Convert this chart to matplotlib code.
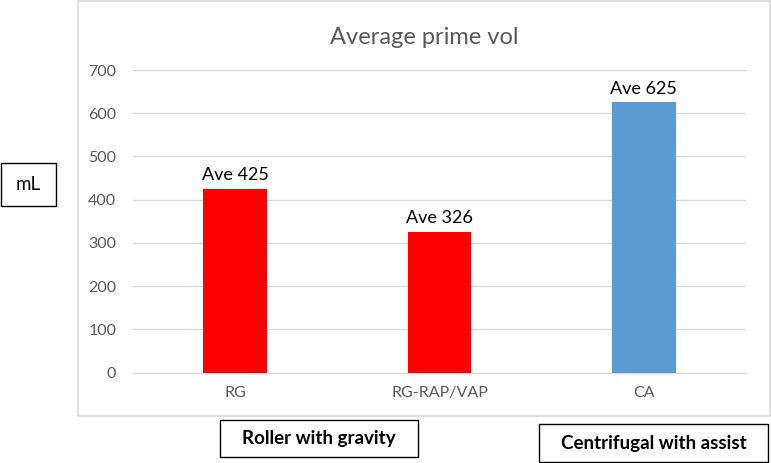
import matplotlib
matplotlib.use("Agg")
import matplotlib.pyplot as plt
from matplotlib.patches import Rectangle

categories = ["RG", "RG-RAP/VAP", "CA"]
values = [425, 326, 625]
labels = ["Ave 425", "Ave 326", "Ave 625"]
colors = ["#FF0000", "#FF0000", "#5B9BD5"]
yticks = [0, 100, 200, 300, 400, 500, 600, 700]

plt.rcParams['font.family'] = ['Lato', 'DejaVu Sans']

W, H = 771, 463
fig = plt.figure(figsize=(W / 100, H / 100), dpi=100)

def fx(px):
    return px / W

def fy(py):
    return 1 - py / H

# outer chart border
fig.patches.append(Rectangle((fx(78), fy(416)), fx(770) - fx(78), fy(1) - fy(416),
                             transform=fig.transFigure, fill=False,
                             edgecolor="#d9d9d9", linewidth=1.2))

ax = fig.add_axes([fx(133), fy(372.5), fx(746) - fx(133), fy(70) - fy(372.5)])
x = list(range(len(categories)))
ax.bar(x, values, width=0.31, color=colors, zorder=3)
ax.set_xlim(-0.5, 2.5)
ax.set_ylim(0, 700)
ax.set_yticks(yticks)
ax.set_xticks(x)
ax.set_xticklabels(categories)
ax.grid(axis="y", color="#d9d9d9", linewidth=1, zorder=0)
for s in ["top", "right", "left"]:
    ax.spines[s].set_visible(False)
ax.spines["bottom"].set_color("#d9d9d9")
ax.spines["bottom"].set_linewidth(1)
ax.tick_params(axis="both", length=0, labelsize=11.5, colors="#595959")
ax.tick_params(axis="y", pad=12)
ax.tick_params(axis="x", pad=10)

for xi, v, lab in zip(x, values, labels):
    ax.annotate(lab, (xi, v), xytext=(0, 4), textcoords="offset points",
                ha="center", va="bottom", fontsize=13, color="black")

fig.text(fx(424), fy(37), "Average prime vol", ha="center", va="center",
         fontsize=17, color="#595959")

def boxed(x0, y0, x1, y1, text, bold, size):
    fig.patches.append(Rectangle((fx(x0), fy(y1)), fx(x1) - fx(x0), fy(y0) - fy(y1),
                                 transform=fig.transFigure, fill=False,
                                 edgecolor="black", linewidth=1))
    fig.text((fx(x0) + fx(x1)) / 2, (fy(y0) + fy(y1)) / 2, text,
             ha="center", va="center", fontsize=size,
             fontweight="bold" if bold else "normal", color="black")

boxed(1, 163, 56, 206, "mL", False, 13.5)
boxed(220, 420, 418, 457, "Roller with gravity", True, 13.5)
boxed(539, 424, 768, 462, "Centrifugal with assist", True, 13.5)

fig.savefig("out.png", dpi=100)
